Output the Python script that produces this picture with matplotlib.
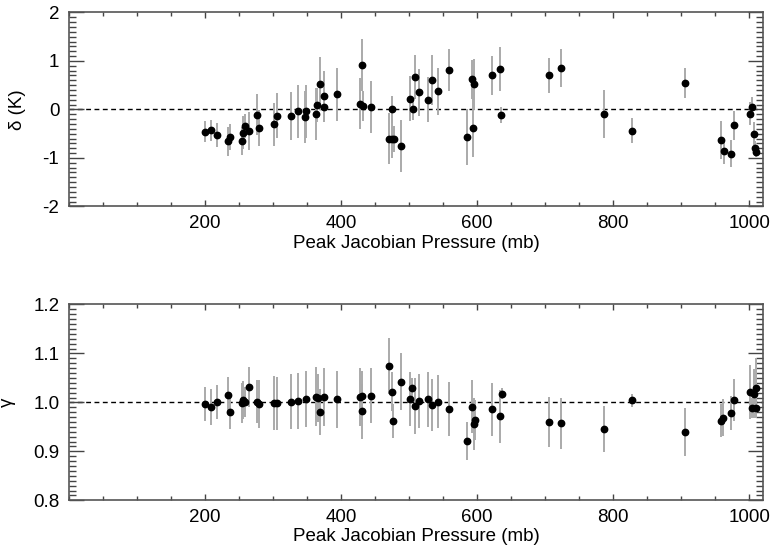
import numpy as np
import matplotlib
matplotlib.use("Agg")
import matplotlib.pyplot as plt
from matplotlib.ticker import MultipleLocator, FixedLocator

plt.rcParams["font.family"] = ["Liberation Sans", "DejaVu Sans"]
plt.rcParams["axes.unicode_minus"] = False

# --- top panel: temperature offset delta (K) ---
p_top = [200, 208, 218, 234, 237, 254, 256, 258, 264, 276, 280, 301, 306, 327, 336,
         347, 349, 363, 365, 369, 375, 375, 394, 428, 431, 432, 444, 471, 475, 477,
         475, 488, 501, 505, 509, 514, 528, 533, 542, 559, 585, 592, 596, 594,
         622, 634, 635, 705, 723, 787, 828, 906, 959, 963, 973, 977, 1001, 1004,
         1007, 1009, 1010]
d_top = [-0.46, -0.43, -0.53, -0.66, -0.57, -0.65, -0.48, -0.34, -0.44, -0.11, -0.38,
         -0.31, -0.13, -0.14, -0.04, -0.16, -0.04, -0.09, 0.10, 0.53, 0.27, 0.04,
         0.31, 0.12, 0.92, 0.07, 0.05, -0.60, -0.60, -0.61, 0.00, -0.75, 0.22, 0.00,
         0.67, 0.35, 0.20, 0.61, 0.37, 0.81, -0.57, 0.62, 0.53, -0.38,
         0.70, 0.84, -0.12, 0.70, 0.86, -0.09, -0.44, 0.55, -0.63, -0.86, -0.91,
         -0.33, -0.09, 0.05, -0.50, -0.80, -0.88]
e_top = [0.22, 0.22, 0.25, 0.29, 0.27, 0.29, 0.34, 0.25, 0.39, 0.42, 0.37, 0.45, 0.46,
         0.49, 0.54, 0.53, 0.55, 0.53, 0.35, 0.55, 0.52, 0.30, 0.54, 0.53, 0.54, 0.30,
         0.54, 0.52, 0.40, 0.27, 0.27, 0.54, 0.46, 0.22, 0.45, 0.48, 0.46, 0.52, 0.48,
         0.44, 0.58, 0.40, 0.52, 0.60,
         0.41, 0.45, 0.16, 0.37, 0.39, 0.49, 0.26, 0.31, 0.40, 0.26, 0.27, 0.30,
         0.24, 0.20, 0.24, 0.15, 0.10]

# --- bottom panel: scale factor gamma ---
p_bot = [200, 208, 218, 234, 236, 254, 256, 258, 264, 276, 280, 301, 306, 327, 336,
         348, 363, 366, 369, 375, 394, 428, 431, 431, 444, 471, 475, 476, 488, 501,
         504, 509, 514, 528, 533, 542, 559, 585, 592, 595, 597,
         622, 634, 636, 705, 723, 787, 827, 906, 959, 962, 973, 977, 1001, 1007,
         1010, 1004, 1010]
g_bot = [0.997, 0.990, 1.001, 1.016, 0.980, 0.999, 1.005, 1.001, 1.031, 1.001, 0.996,
         0.998, 0.998, 1.001, 1.003, 1.007, 1.012, 1.009, 0.980, 1.011, 1.006, 1.011,
         1.014, 0.982, 1.014, 1.075, 1.022, 0.962, 1.042, 1.007, 1.030, 0.992, 1.003,
         1.006, 0.994, 1.001, 0.986, 0.921, 0.991, 0.956, 0.964,
         0.986, 0.972, 1.018, 0.960, 0.957, 0.946, 1.004, 0.939, 0.963, 0.969,
         0.978, 1.005, 1.022, 1.018, 1.030, 0.989, 0.988]
e_bot = [0.034, 0.037, 0.035, 0.035, 0.035, 0.041, 0.039, 0.030, 0.041, 0.044, 0.049,
         0.055, 0.054, 0.056, 0.058, 0.057, 0.060, 0.050, 0.047, 0.060, 0.059, 0.060,
         0.050, 0.056, 0.057, 0.057, 0.040, 0.034, 0.058, 0.056, 0.020, 0.057, 0.055,
         0.057, 0.053, 0.054, 0.055, 0.039, 0.054, 0.053, 0.040,
         0.054, 0.054, 0.012, 0.052, 0.052, 0.047, 0.014, 0.049, 0.034, 0.037,
         0.035, 0.042, 0.055, 0.050, 0.060, 0.020, 0.020]

xticks = [200, 400, 600, 800, 1000]

fig = plt.figure(figsize=(7.71, 5.52), dpi=100)
ax1 = fig.add_axes([0.0895, 0.626, 0.900, 0.3515])
ax2 = fig.add_axes([0.0895, 0.0935, 0.900, 0.355])


def style_panel(ax, ymaj, ymin, yref, ylabel):
    ax.set_xlim(0, 1020)
    ax.xaxis.set_major_locator(FixedLocator(xticks))
    ax.xaxis.set_minor_locator(MultipleLocator(50))
    ax.yaxis.set_major_locator(MultipleLocator(ymaj))
    ax.yaxis.set_minor_locator(MultipleLocator(ymin))
    ax.tick_params(which="both", direction="in", top=True, right=True,
                   color="#444444", labelsize=13.5)
    ax.tick_params(axis="y", which="major", length=11, width=1, pad=7)
    ax.tick_params(axis="y", which="minor", length=5, width=1)
    ax.tick_params(axis="x", which="major", length=4, width=1, pad=6)
    ax.tick_params(axis="x", which="minor", length=3, width=1)
    for s in ax.spines.values():
        s.set_color("#555555")
        s.set_linewidth(1.2)
    ax.axhline(yref, color="black", ls=(0, (3.5, 2.5)), lw=1, zorder=1)
    ax.set_xlabel("Peak Jacobian Pressure (mb)", fontsize=13.5, labelpad=2)
    ax.set_ylabel(ylabel, fontsize=13.5, labelpad=12)


ax1.errorbar(p_top, d_top, yerr=e_top, fmt="o", ms=4.6, mfc="black", mec="black",
             ecolor="#aaaaaa", elinewidth=1.4, capsize=0, zorder=3)
style_panel(ax1, 1, 0.1, 0.0, "δ (K)")
ax1.set_yticks([-2, -1, 0, 1, 2])
ax1.set_ylim(-2, 2)

ax2.errorbar(p_bot, g_bot, yerr=e_bot, fmt="o", ms=4.6, mfc="black", mec="black",
             ecolor="#aaaaaa", elinewidth=1.4, capsize=0, zorder=3)
style_panel(ax2, 0.1, 0.01, 1.0, "γ")
ax2.set_yticks([0.8, 0.9, 1.0, 1.1, 1.2])
ax2.set_yticklabels(["0.8", "0.9", "1.0", "1.1", "1.2"])
ax2.set_ylim(0.8, 1.2)

fig.savefig("out.png", dpi=100)
